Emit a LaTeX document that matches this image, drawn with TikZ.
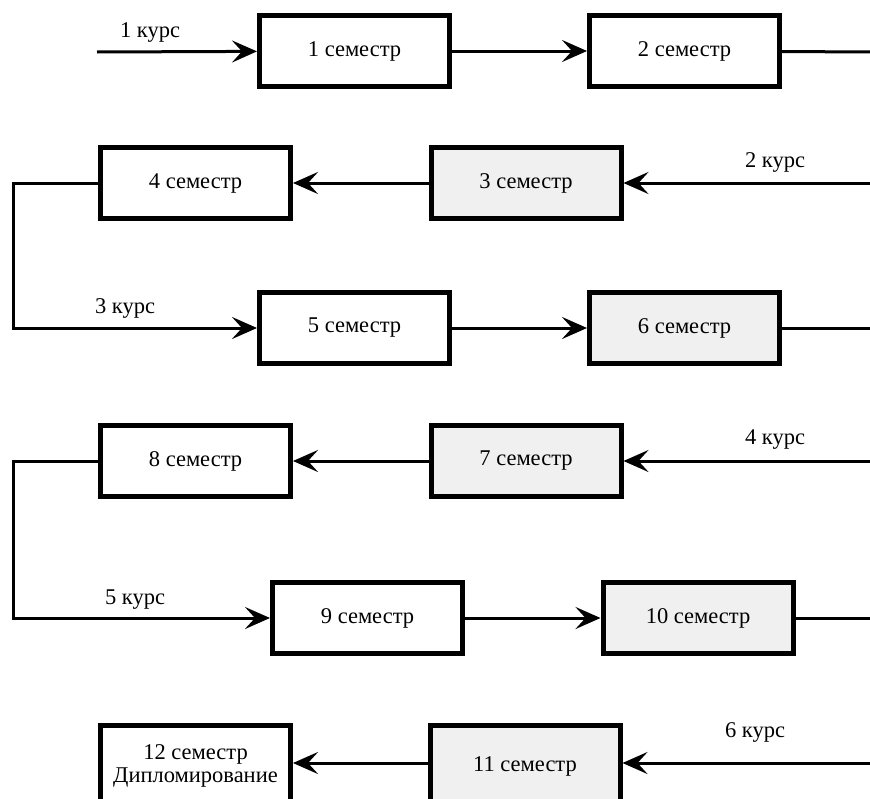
\documentclass[tikz,border=0pt]{standalone}
\usepackage{fontspec}
\setmainfont{Liberation Serif}
\usetikzlibrary{arrows.meta,positioning}

\begin{document}
\begin{tikzpicture}[x=1pt, y=-1pt,
		every node/.style={font=\fontsize{22.5}{26}\selectfont},
		sem/.style={draw, line width=5pt, fill=white, minimum width=190pt, minimum height=71pt, align=center, inner sep=0pt},
		semgray/.style={sem, fill=black!6},
		conn/.style={line width=3pt},
		arr/.style={conn, -{Stealth[length=25pt, width=22pt, inset=10pt]}}]
	\clip (0,0) rectangle (870,798);
	% 1 kurs
	\node[sem] (s1) at (354.5,51) {1 семестр};
	\node[sem] (s2) at (684.5,51) {2 семестр};
	% 2 kurs
	\node[semgray] (s3) at (526,183) {3 семестр};
	\node[sem] (s4) at (195.5,183) {4 семестр};
	% 3 kurs
	\node[sem] (s5) at (354.5,328) {5 семестр};
	\node[semgray] (s6) at (684.5,328) {6 семестр};
	% 4 kurs
	\node[semgray] (s7) at (526,461) {7 семестр};
	\node[sem] (s8) at (195.5,461) {8 семестр};
	% 5 kurs
	\node[sem] (s9) at (367.5,618) {9 семестр};
	\node[semgray] (s10) at (698,618) {10 семестр};
	% 6 kurs (cut off at the bottom)
	\node[semgray, minimum height=81pt] (s11) at (525,766) {11 семестр};
	\node[sem, minimum height=81pt] (s12) at (195.5,766) {12 семестр\\[-3pt]Дипломирование};

	\coordinate (in1) at (97,52);
	\coordinate (out2) at (872,52);
	\coordinate (in3) at (872,183);
	\coordinate (l4) at (13,183);
	\coordinate (out6) at (872,328);
	\coordinate (in7) at (872,461);
	\coordinate (l8) at (13,461);
	\coordinate (out10) at (872,618);
	\coordinate (in11) at (872,763);

	% kursy
	\node (k1) at (150,32) {1 курс};
	\node (k2) at (775,162) {2 курс};
	\node (k3) at (125,308) {3 курс};
	\node (k4) at (775,440) {4 курс};
	\node (k5) at (135,600) {5 курс};
	\node (k6) at (755,732) {6 курс};

	\draw[arr] (in1) -- (s1);
	\draw[arr] (s1) -- (s2);
	\draw[conn] (s2) -- (out2);
	\draw[arr] (in3) -- (s3);
	\draw[arr] (s3) -- (s4);
	\draw[arr] (s4.west) -- (l4) |- (s5.west);
	\draw[arr] (s5) -- (s6);
	\draw[conn] (s6) -- (out6);
	\draw[arr] (in7) -- (s7);
	\draw[arr] (s7) -- (s8);
	\draw[arr] (s8.west) -- (l8) |- (s9.west);
	\draw[arr] (s9) -- (s10);
	\draw[conn] (s10) -- (out10);
	\draw[arr] (in11) -- (in11 -| s11.east);
	\draw[arr] (s11.west |- in11) -- (in11 -| s12.east);
\end{tikzpicture}
\end{document}
